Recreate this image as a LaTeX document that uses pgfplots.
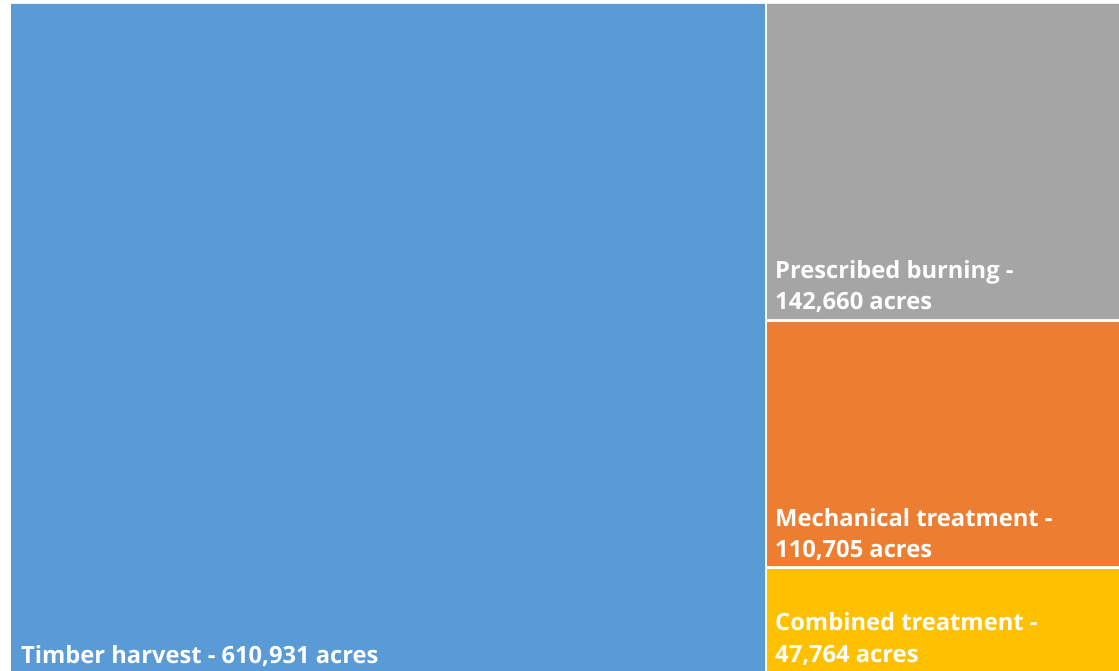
\documentclass[border=0pt]{standalone}
\usepackage{fontspec}
\setmainfont{Open Sans}
\usepackage{pgfplots}
\pgfplotsset{compat=1.18}
\definecolor{cblue}{HTML}{5B9BD5}
\definecolor{cgray}{HTML}{A5A5A5}
\definecolor{corange}{HTML}{ED7D31}
\definecolor{cyellow}{HTML}{FFC000}
\tikzset{lbl/.style={anchor=base west,text=white,font=\fontsize{23.8}{28}\selectfont\bfseries,inner sep=0pt}}
\begin{document}
\begin{tikzpicture}
\begin{axis}[width=1119bp,height=671bp,scale only axis,
  xmin=0,xmax=1119,ymin=0,ymax=671,y dir=reverse,hide axis,clip=true]
% background
\addplot[fill=white,draw=none] coordinates {(0,0) (1119,0) (1119,671) (0,671) (0,0)};
% Timber harvest - 610,931 acres
\addplot[fill=cblue,draw=none] coordinates {(11,4) (765,4) (765,675) (11,675) (11,4)};
% Prescribed burning - 142,660 acres
\addplot[fill=cgray,draw=none] coordinates {(767,4) (1122,4) (1122,319) (767,319) (767,4)};
% Mechanical treatment - 110,705 acres
\addplot[fill=corange,draw=none] coordinates {(767,322) (1122,322) (1122,566) (767,566) (767,322)};
% Combined treatment - 47,764 acres
\addplot[fill=cyellow,draw=none] coordinates {(767,569) (1122,569) (1122,675) (767,675) (767,569)};
\node[lbl] at (axis cs:21,663) {Timber harvest - 610,931 acres};
\node[lbl] at (axis cs:775,278) {Prescribed burning -};
\node[lbl] at (axis cs:775,309) {142,660 acres};
\node[lbl] at (axis cs:775,526) {Mechanical treatment -};
\node[lbl] at (axis cs:775,557) {110,705 acres};
\node[lbl] at (axis cs:775,630) {Combined treatment -};
\node[lbl] at (axis cs:775,662) {47,764 acres};
\end{axis}
\end{tikzpicture}
\end{document}
